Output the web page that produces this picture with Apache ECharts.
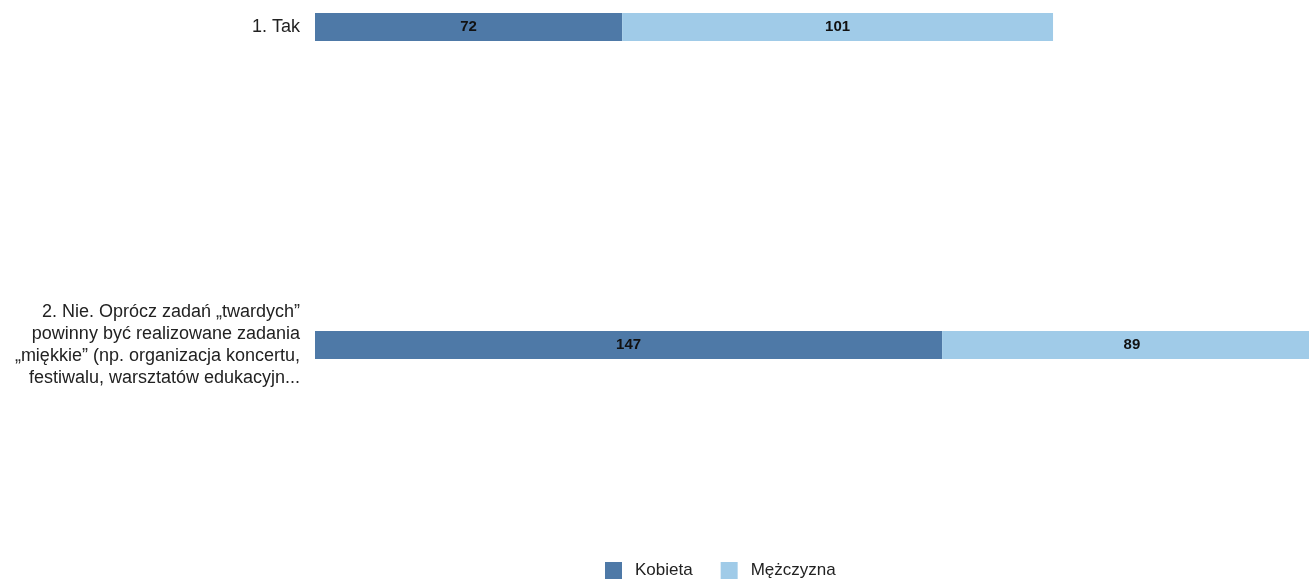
<!DOCTYPE html>
<html><head><meta charset="utf-8">
<script src="https://cdn.jsdelivr.net/npm/echarts@6/dist/echarts.min.js"></script>
<style>html,body{margin:0;padding:0;background:#fff}#c{width:1309px;height:581px}</style>
</head><body><div id="c"></div>
<script>
const categories = [
  "1. Tak",
  "2. Nie. Oprócz zadań „twardych”\npowinny być realizowane zadania\n„miękkie” (np. organizacja koncertu,\nfestiwalu, warsztatów edukacyjn..."
];
const seriesNames = ["Kobieta", "Mężczyzna"];
const kobieta = [72, 147];
const mezczyzna = [101, 89];
const colors = ["#4e79a7", "#a0cbe8"];

const chart = echarts.init(document.getElementById('c'));
const font = "Liberation Sans, Arial, sans-serif";
chart.setOption({
  animation: false,
  textStyle: { fontFamily: font },
  legend: {
    bottom: -3, left: 600,
    itemWidth: 17, itemHeight: 17, itemGap: 28,
    icon: 'rect',
    textStyle: { fontSize: 17, color: '#222', fontFamily: font, padding: [0, 0, 0, 8] },
    data: seriesNames
  },
  grid: { left: 315, top: 27, right: 0, height: 318, containLabel: false },
  xAxis: { type: 'value', min: 0, max: 233, show: false },
  yAxis: {
    type: 'category', data: categories, inverse: true, boundaryGap: false,
    axisLine: { show: false }, axisTick: { show: false }, splitLine: { show: false },
    axisLabel: { fontSize: 18, color: '#222', margin: 15, lineHeight: 22, align: 'right', fontFamily: font }
  },
  series: [
    { name: seriesNames[0], type: 'bar', stack: 's', data: kobieta, barWidth: 28, clip: false,
      itemStyle: { color: colors[0] },
      label: { show: true, position: 'inside', color: '#111', fontWeight: 'bold', fontSize: 15, fontFamily: font } },
    { name: seriesNames[1], type: 'bar', stack: 's', data: mezczyzna, barWidth: 28, clip: false,
      itemStyle: { color: colors[1] },
      label: { show: true, position: 'inside', color: '#111', fontWeight: 'bold', fontSize: 15, fontFamily: font } }
  ]
});
</script></body></html>
